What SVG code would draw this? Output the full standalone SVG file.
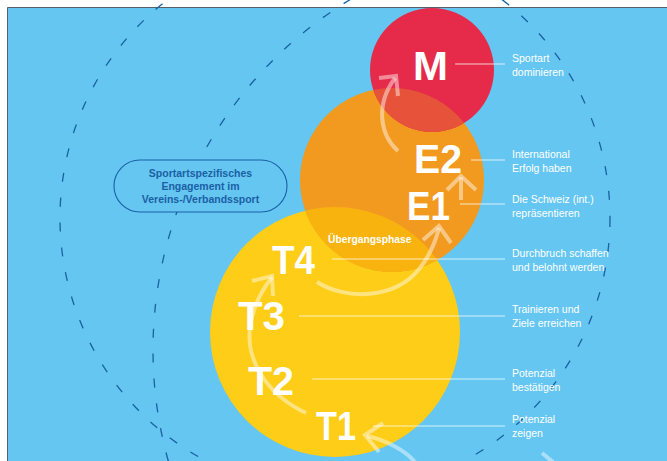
<svg xmlns="http://www.w3.org/2000/svg" width="667" height="461" viewBox="0 0 667 461">
<style>
.dash{fill:none;stroke:#1B609F;stroke-width:1.3;stroke-dasharray:9 16}
.big{font-family:"Liberation Sans",Arial,sans-serif;font-weight:bold;font-size:40px;fill:#fff}
.lbl{font-family:"Liberation Sans",Arial,sans-serif;font-size:10.5px;fill:#fff}
.lead{stroke:#fff;stroke-opacity:0.75;stroke-width:1}
.arr{fill:none;stroke:#fff;stroke-opacity:0.45;stroke-width:4;stroke-linejoin:miter}
.box{font-family:"Liberation Sans",Arial,sans-serif;font-weight:bold;font-size:10.5px;fill:#1B5FA5;text-anchor:middle}
</style>
<defs>
<clipPath id="clipY"><circle cx="335" cy="332" r="125"/></clipPath>
<clipPath id="clipO"><circle cx="392" cy="180" r="92"/></clipPath>
</defs>
<rect x="0" y="0" width="667" height="461" fill="#fff"/>
<rect x="7.5" y="7.5" width="660" height="454" fill="#64C6F1"/>
<path d="M7.5 461V7.5H667" fill="none" stroke="#55606A" stroke-width="1"/>

<g id="dashed-arcs">
<circle class="dash" cx="335" cy="218" r="275"/>
<circle class="dash" cx="563" cy="350" r="410"/>
</g>

<g id="stage-circles">
<circle cx="335" cy="332" r="125" fill="#FDCD17"/>
<circle cx="392" cy="180" r="92" fill="#F29A20"/>
<circle cx="392" cy="180" r="92" fill="#F8B30F" clip-path="url(#clipY)"/>
<circle cx="432" cy="70" r="62" fill="#E52B49"/>
<circle cx="432" cy="70" r="62" fill="#E6533A" clip-path="url(#clipO)"/>
</g>

<g id="engagement">
<rect x="114" y="160" width="173" height="52" rx="26" ry="26" fill="#64C6F1" stroke="#1B5FA5" stroke-width="1.1"/>
<text class="box" x="200.5" y="177">Sportartspezifisches</text>
<text class="box" x="200.5" y="190">Engagement im</text>
<text class="box" x="200.5" y="203">Vereins-/Verbandssport</text>
</g>

<g id="uebergang">
<text x="328" y="243" font-family="Liberation Sans,Arial,sans-serif" font-weight="bold" font-size="10.3" fill="#fff">Übergangsphase</text>
</g>

<g id="connectors">
<path class="arr" d="M306 413C268 395 243 360 251 322C254 305 262 290 272 277"/>
<path class="arr" d="M252 281L272 276L273 296"/>
<path class="arr" d="M317 282C345 300 395 300 420 268C430 255 436 240 439 228"/>
<path class="arr" d="M423 240L439 226L451 243"/>
<path class="arr" d="M461 200V177"/>
<path class="arr" d="M447 190L461 176L476 190"/>
<path class="arr" d="M398 151C380 135 375 105 395 78"/>
<path class="arr" d="M379 78L396 76L398 96"/>
<path class="arr" d="M415 462C405 450 385 440 367 436"/>
<path class="arr" d="M383 423L365 435L379 452"/>
<path class="arr" d="M542 453L553 462"/>
</g>

<g id="node-M">
<text class="big" x="413" y="80" textLength="35" lengthAdjust="spacingAndGlyphs">M</text>
<line class="lead" x1="455" y1="64" x2="505" y2="64"/>
<text class="lbl" x="512" y="62">Sportart</text>
<text class="lbl" x="512" y="76">dominieren</text>
</g>
<g id="node-E2">
<text class="big" x="414" y="173" textLength="48" lengthAdjust="spacingAndGlyphs">E2</text>
<line class="lead" x1="471" y1="160" x2="505" y2="160"/>
<text class="lbl" x="512" y="158">International</text>
<text class="lbl" x="512" y="172">Erfolg haben</text>
</g>
<g id="node-E1">
<text class="big" x="407" y="220" textLength="43" lengthAdjust="spacingAndGlyphs">E1</text>
<line class="lead" x1="460" y1="204" x2="505" y2="204"/>
<text class="lbl" x="512" y="203">Die Schweiz (int.)</text>
<text class="lbl" x="512" y="217">repräsentieren</text>
</g>
<g id="node-T4">
<text class="big" x="272" y="274" textLength="43" lengthAdjust="spacingAndGlyphs">T4</text>
<line class="lead" x1="332" y1="259" x2="505" y2="259"/>
<text class="lbl" x="512" y="257">Durchbruch schaffen</text>
<text class="lbl" x="512" y="271">und belohnt werden</text>
</g>
<g id="node-T3">
<text class="big" x="238" y="330" textLength="47" lengthAdjust="spacingAndGlyphs">T3</text>
<line class="lead" x1="299" y1="316" x2="505" y2="316"/>
<text class="lbl" x="512" y="313">Trainieren und</text>
<text class="lbl" x="512" y="327">Ziele erreichen</text>
</g>
<g id="node-T2">
<text class="big" x="248" y="395" textLength="46" lengthAdjust="spacingAndGlyphs">T2</text>
<line class="lead" x1="312" y1="379" x2="505" y2="379"/>
<text class="lbl" x="512" y="377">Potenzial</text>
<text class="lbl" x="512" y="391">bestätigen</text>
</g>
<g id="node-T1">
<text class="big" x="316" y="440" textLength="40" lengthAdjust="spacingAndGlyphs">T1</text>
<line class="lead" x1="373" y1="426" x2="505" y2="426"/>
<text class="lbl" x="512" y="423">Potenzial</text>
<text class="lbl" x="512" y="437">zeigen</text>
</g>
</svg>
